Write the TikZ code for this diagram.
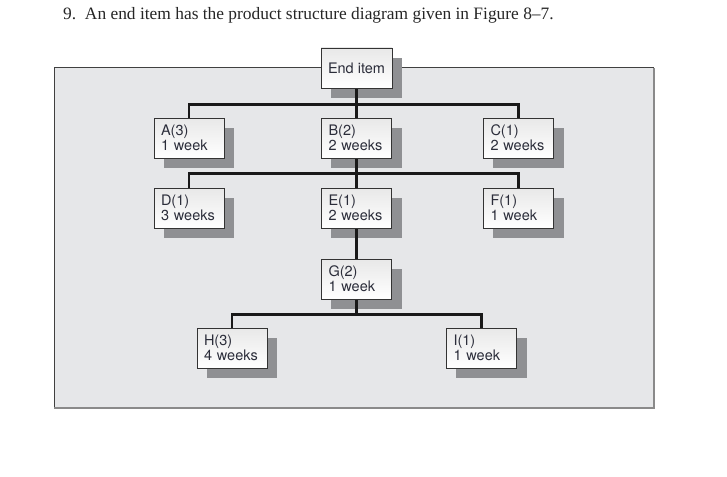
\documentclass[tikz,border=0pt]{standalone}
\usepackage{fontspec}
\setmainfont{Liberation Serif}
\newfontfamily\boxfont{TeX Gyre Heros}
\usetikzlibrary{positioning,calc}

\definecolor{panelgray}{HTML}{E6E7E9}
\definecolor{shadowgray}{HTML}{8F9093}
\definecolor{rimgray}{HTML}{8A8A8A}
\definecolor{inkblue}{HTML}{2B2D3A}

\pgfdeclarelayer{panel}
\pgfdeclarelayer{shadow}
\pgfdeclarelayer{lines}
\pgfsetlayers{panel,shadow,lines,main}

\begin{document}
\begin{tikzpicture}[
  x=1pt, y=-1pt,
  part/.style={
    draw=black!80, line width=0.8pt, rectangle,
    top color=black!9, bottom color=white,
    minimum width=70pt, minimum height=40pt,
    text width=56pt, inner xsep=7pt, align=left,
    text=inkblue, font=\boxfont\fontsize{14.5}{13.5}\selectfont
  },
  lnk/.style={line width=2.4pt, draw=black!90},
]
\useasboundingbox (0,0) rectangle (727,476);

\node[anchor=base west, font=\fontsize{17.4}{17.4}\selectfont, text=black!85, inner sep=0pt] (title)
  at (63,20) {9.\ \ An end item has the product structure diagram given in Figure 8--7.};

%% level 0
\node[part, text width={}, align=center] (endi) at (356.5,68) {End item};

%% level 1
\node[part] (a) at (189,138) {A(3)\\1 week};
\node[part] (b) at (356.5,138) {B(2)\\2 weeks};
\node[part] (c) at (518.5,138) {C(1)\\2 weeks};

%% level 2
\node[part] (d) at (189,208) {D(1)\\3 weeks};
\node[part] (e) at (356.5,208) {E(1)\\2 weeks};
\node[part] (f) at (518.5,208) {F(1)\\1 week};

%% level 3
\node[part] (g) at (356.5,279) {G(2)\\1 week};

%% level 4
\node[part] (h) at (232,348) {H(3)\\4 weeks};
\node[part] (i) at (481.5,348) {I(1)\\1 week};

%% gray panel
\begin{pgfonlayer}{panel}
  \fill[panelgray] (54,68) rectangle (654,408);
  \draw[black!75, line width=1pt] (54,408) -- (54,68) -- (654,68);
  \draw[rimgray, line width=2.2pt] (654,68) -- (654,408) -- (54,408);
\end{pgfonlayer}

%% shadows
\begin{pgfonlayer}{shadow}
  \foreach \n in {endi,a,b,c,d,e,f,g,h,i}
    \fill[shadowgray] ([shift={(10,10)}]\n.north west) rectangle ([shift={(10,10)}]\n.south east);
\end{pgfonlayer}

%% connectors
\begin{pgfonlayer}{lines}
  \draw[lnk] (endi.south) -- ++(0,16) coordinate (bus1);
  \draw[lnk] (a.north) |- (bus1) -| (c.north);
  \draw[lnk] (bus1) -- (b.north);

  \draw[lnk] (b.south) -- ++(0,15) coordinate (bus2);
  \draw[lnk] (d.north) |- (bus2) -| (f.north);
  \draw[lnk] (bus2) -- (e.north);

  \draw[lnk] (e.south) -- (g.north);

  \draw[lnk] (g.south) -- ++(0,15) coordinate (bus3);
  \draw[lnk] (h.north) |- (bus3) -| (i.north);
\end{pgfonlayer}
\end{tikzpicture}
\end{document}
